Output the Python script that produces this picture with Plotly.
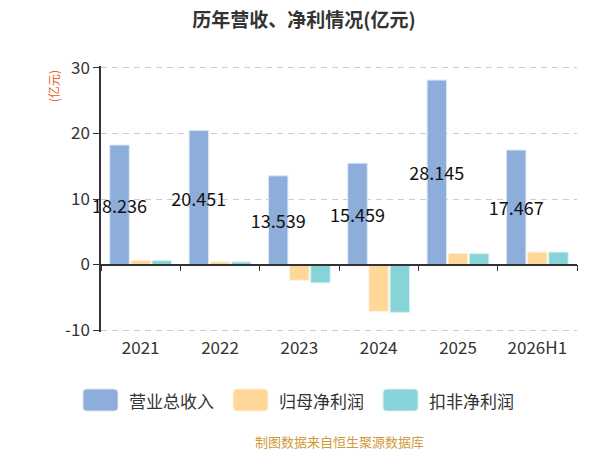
import plotly.graph_objects as go

# ===== 数据 =====
years = ["2021", "2022", "2023", "2024", "2025", "2026H1"]
revenue = [18.236, 20.451, 13.539, 15.459, 28.145, 17.467]   # 营业总收入
net_profit = [0.62, 0.42, -2.4, -7.15, 1.7, 1.9]             # 归母净利润
deducted_profit = [0.6, 0.4, -2.8, -7.3, 1.65, 1.9]          # 扣非净利润
y_ticks = [-10, 0, 10, 20, 30]
y_tick_labels = ["-10", "0", "10", "20", "30"]

series_names = ["营业总收入", "归母净利润", "扣非净利润"]
series_colors = ["#8DADDA", "#FFD899", "#86D4D8"]
series_edges = ["#DCE6F4", "#FFF1DA", "#D8F1F2"]

FONT = "Noto Sans CJK SC"
# 页面 body 有 8px 默认边距，图整体缩小 8px 抵消
W, H = 592, 442
ML, MR, MT, MB = 93, 23, 58, 118
PW, PH = W - ML - MR, H - MT - MB
Y_RANGE = [-10.3, 30.3]   # 稍微放宽，保证 30 / -10 的网格线显示
zero_pos = (0 - Y_RANGE[0]) / (Y_RANGE[1] - Y_RANGE[0])

fig = go.Figure()
for name, vals, col, edge in zip(series_names, [revenue, net_profit, deducted_profit],
                                 series_colors, series_edges):
    fig.add_trace(go.Bar(
        x=years, y=vals, name=name, showlegend=False, cliponaxis=False,
        marker=dict(color=col, line=dict(color=edge, width=1)),
    ))
# 营收标签：柱子中部
fig.data[0].update(
    text=[f"{v:.3f}" for v in revenue], textposition="inside",
    insidetextanchor="middle", textangle=0, constraintext="none",
    textfont=dict(color="#111111", size=18, family=FONT),
)
# 用于在 0 线上画 x 轴线和刻度
fig.add_trace(go.Scatter(
    x=years, y=revenue, xaxis="x2", mode="markers",
    marker=dict(opacity=0), hoverinfo="skip", showlegend=False,
))


def px2paper(x, y):
    return (x - ML) / PW, (MT + PH - y) / PH


def rounded_rect(x0, y0, x1, y1, r=4):
    # 像素坐标 -> paper 坐标的圆角矩形
    def p(x, y):
        a, b = px2paper(x, y)
        return f"{a:.5f},{b:.5f}"
    pts = [
        "M" + p(x0 + r, y0),
        "L" + p(x1 - r, y0),
        "Q" + p(x1, y0) + " " + p(x1, y0 + r),
        "L" + p(x1, y1 - r),
        "Q" + p(x1, y1) + " " + p(x1 - r, y1),
        "L" + p(x0 + r, y1),
        "Q" + p(x0, y1) + " " + p(x0, y1 - r),
        "L" + p(x0, y0 + r),
        "Q" + p(x0, y0) + " " + p(x0 + r, y0),
    ]
    return " ".join(pts) + " Z"


# 自绘图例
legend_x = [75, 225, 375]
shapes, annotations = [], []
for lx, name, col, edge in zip(legend_x, series_names, series_colors, series_edges):
    shapes.append(dict(type="path", xref="paper", yref="paper",
                       path=rounded_rect(lx, 381, lx + 35, 403),
                       fillcolor=col, line=dict(color=edge, width=1), layer="above"))
    tx, ty = px2paper(lx + 44, 392)
    annotations.append(dict(text=name, xref="paper", yref="paper", x=tx, y=ty,
                            xanchor="left", yanchor="middle", showarrow=False,
                            font=dict(size=17, color="#333333")))

ax_x, ax_y = px2paper(45, 60)
annotations.append(dict(text="(亿元)", xref="paper", yref="paper", x=ax_x, y=ax_y,
                        xanchor="center", yanchor="top", textangle=-90, showarrow=False,
                        font=dict(size=12, color="#E0662E")))
fx, fy = px2paper(292, 433)
annotations.append(dict(text="制图数据来自恒生聚源数据库", xref="paper", yref="paper",
                        x=0.5, y=fy, xanchor="center", yanchor="middle", showarrow=False,
                        font=dict(size=13, color="#D09A3A")))

fig.update_layout(
    width=W, height=H,
    paper_bgcolor="white", plot_bgcolor="white",
    margin=dict(l=ML, r=MR, t=MT, b=MB),
    font=dict(family=FONT, color="#333333"),
    title=dict(text="<b>历年营收、净利情况(亿元)</b>", x=0.5, xanchor="center",
               y=1 - 12 / H, yanchor="middle", font=dict(size=19, color="#333333")),
    barmode="group", bargap=0.2, bargroupgap=0.08,
    showlegend=False,
    xaxis=dict(type="category", categoryorder="array", categoryarray=years,
               showline=False, ticks="", showgrid=False, ticklabelstandoff=4,
               tickfont=dict(size=17, color="#333333")),
    xaxis2=dict(type="category", categoryorder="array", categoryarray=years,
                matches="x", overlaying="x", anchor="free", position=zero_pos,
                showline=True, linecolor="#333333", linewidth=1.5,
                ticks="outside", tickson="boundaries", ticklen=6,
                tickcolor="#333333", showticklabels=False, showgrid=False),
    yaxis=dict(range=Y_RANGE, tickvals=y_ticks, ticktext=y_tick_labels, showline=True,
               linecolor="#333333", linewidth=1.5, ticks="outside", ticklen=6,
               tickcolor="#333333", gridcolor="#CCCCCC", griddash="6px,5px",
               zeroline=False, tickfont=dict(size=17, color="#333333")),
    shapes=shapes,
    annotations=annotations,
)

fig.write_html("out.html")
